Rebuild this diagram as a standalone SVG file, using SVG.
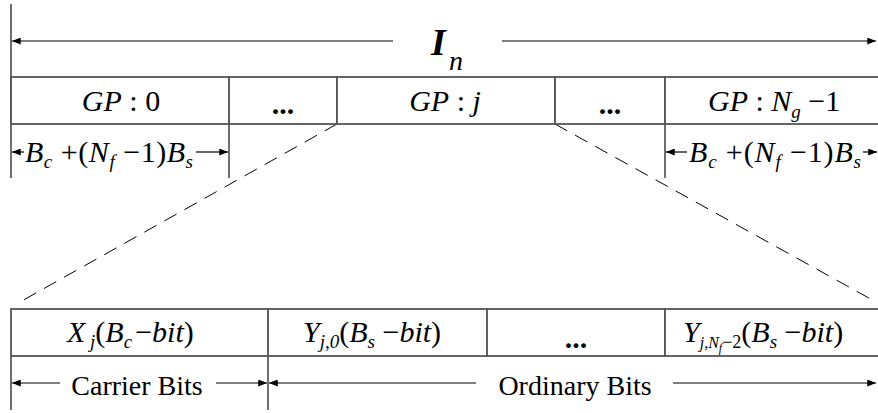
<svg xmlns="http://www.w3.org/2000/svg" width="878" height="413" viewBox="0 0 878 413">
<defs>
<marker id="ah" viewBox="0 0 10 8" refX="10" refY="4" markerWidth="10" markerHeight="7" markerUnits="userSpaceOnUse" orient="auto-start-reverse">
<path d="M0,0 L10,4 L0,8 Z" fill="#000"/>
</marker>
<style>
.ln{stroke:#222;stroke-width:1.3;fill:none}
.bx{stroke:#555;stroke-width:1.8;fill:#fff}
.ar{stroke:#000;stroke-width:1.2;fill:none}
.ds{stroke:#000;stroke-width:1;stroke-dasharray:14,9;fill:none}
text{font-family:"Liberation Serif","Times New Roman",serif;fill:#000}
.t{font-size:30px}
.d{font-size:28px}
.m{font-size:30px}
.i{font-style:italic}
.s{font-size:19px;font-style:italic}
</style>
</defs>
<g id="connectors">
<line class="ln" x1="11" y1="4" x2="11" y2="178"/>
<line class="ln" x1="229" y1="124" x2="229" y2="178"/>
<line class="ln" x1="665" y1="124" x2="665" y2="178"/>
<line class="ar" x1="393" y1="41" x2="12" y2="41" marker-end="url(#ah)"/>
<line class="ar" x1="502" y1="41" x2="876" y2="41" marker-end="url(#ah)"/>
<line class="ar" x1="24" y1="152" x2="12" y2="152" marker-end="url(#ah)"/>
<line class="ar" x1="196" y1="152" x2="228" y2="152" marker-end="url(#ah)"/>
<line class="ar" x1="687" y1="152" x2="666" y2="152" marker-end="url(#ah)"/>
<line class="ar" x1="863" y1="152" x2="877" y2="152" marker-end="url(#ah)"/>
<line class="ds" x1="337" y1="124" x2="20" y2="302"/>
<line class="ds" x1="555" y1="124" x2="876" y2="302"/>
<line class="ln" x1="11" y1="356" x2="11" y2="410"/>
<line class="ln" x1="268" y1="356" x2="268" y2="410"/>
<line class="ar" x1="60" y1="383" x2="12" y2="383" marker-end="url(#ah)"/>
<line class="ar" x1="216" y1="383" x2="267" y2="383" marker-end="url(#ah)"/>
<line class="ar" x1="476" y1="383" x2="269" y2="383" marker-end="url(#ah)"/>
<line class="ar" x1="673" y1="383" x2="876" y2="383" marker-end="url(#ah)"/>
</g>
<g id="label-In">
<text x="431" y="55" style="font-size:38px;font-weight:bold;font-style:italic">I</text>
<text class="i" x="449" y="70" style="font-size:28px">n</text>
</g>
<g id="gp0">
<rect class="bx" x="11" y="77" width="218" height="47"/>
<text class="t" x="121" y="111" text-anchor="middle"><tspan class="i">GP</tspan> : 0</text>
</g>
<g id="dots1">
<rect class="bx" x="229" y="77" width="108" height="47"/>
<text class="t" x="283" y="114" text-anchor="middle" font-weight="bold">...</text>
</g>
<g id="gpj">
<rect class="bx" x="337" y="77" width="218" height="47"/>
<text class="t" x="445" y="111" text-anchor="middle"><tspan class="i">GP</tspan> : <tspan class="i">j</tspan></text>
</g>
<g id="dots2">
<rect class="bx" x="555" y="77" width="110" height="47"/>
<text class="t" x="610" y="114" text-anchor="middle" font-weight="bold">...</text>
</g>
<g id="gpN">
<rect class="bx" x="665" y="77" width="216" height="47"/>
<text class="t" x="708" y="111"><tspan class="i">GP</tspan> : <tspan class="i">N</tspan><tspan class="s" dy="7">g</tspan><tspan dy="-7"> −1</tspan></text>
</g>
<g id="dim-left">
<text class="m" x="25" y="162" textLength="168" lengthAdjust="spacing"><tspan class="i">B</tspan><tspan class="s" dy="6">c</tspan><tspan dy="-6"> +(</tspan><tspan class="i">N</tspan><tspan class="s" dy="6">f</tspan><tspan dy="-6"> −1)</tspan><tspan class="i">B</tspan><tspan class="s" dy="6">s</tspan></text>
</g>
<g id="dim-right">
<text class="m" x="689" y="162" textLength="172" lengthAdjust="spacing"><tspan class="i">B</tspan><tspan class="s" dy="6">c</tspan><tspan dy="-6"> +(</tspan><tspan class="i">N</tspan><tspan class="s" dy="6">f</tspan><tspan dy="-6"> −1)</tspan><tspan class="i">B</tspan><tspan class="s" dy="6">s</tspan></text>
</g>
<g id="xj">
<rect class="bx" x="11" y="309" width="257" height="47"/>
<text class="m" x="67" y="342"><tspan class="i">X</tspan><tspan class="s" dy="6"> j</tspan><tspan dy="-6">(</tspan><tspan class="i">B</tspan><tspan class="s" dy="6">c</tspan><tspan dy="-6" dx="3">−</tspan><tspan class="i">bit</tspan>)</text>
</g>
<g id="yj0">
<rect class="bx" x="268" y="309" width="219" height="47"/>
<text class="m" x="303" y="342"><tspan class="i">Y</tspan><tspan class="s" dy="6"><tspan class="i">j</tspan>,0</tspan><tspan dy="-6">(</tspan><tspan class="i">B</tspan><tspan class="s" dy="6">s</tspan><tspan dy="-6"> −</tspan><tspan class="i">bit</tspan>)</text>
</g>
<g id="dots3">
<rect class="bx" x="487" y="309" width="178" height="47"/>
<text class="t" x="576" y="348" text-anchor="middle" font-weight="bold">...</text>
</g>
<g id="yjN">
<rect class="bx" x="665" y="309" width="216" height="47"/>
<text class="m" x="683" y="342"><tspan class="i">Y</tspan><tspan class="s" dy="6" style="font-size:16px"><tspan class="i">j</tspan>,<tspan class="i">N</tspan></tspan><tspan class="s" dy="4" style="font-size:12px">f</tspan><tspan dy="-4" style="font-size:18px">−2</tspan><tspan dy="-6">(</tspan><tspan class="i">B</tspan><tspan class="s" dy="6">s</tspan><tspan dy="-6"> −</tspan><tspan class="i">bit</tspan>)</text>
</g>
<g id="label-carrier">
<text class="d" x="137" y="395" text-anchor="middle">Carrier Bits</text>
</g>
<g id="label-ordinary">
<text class="d" x="575" y="395" text-anchor="middle">Ordinary Bits</text>
</g>
</svg>
